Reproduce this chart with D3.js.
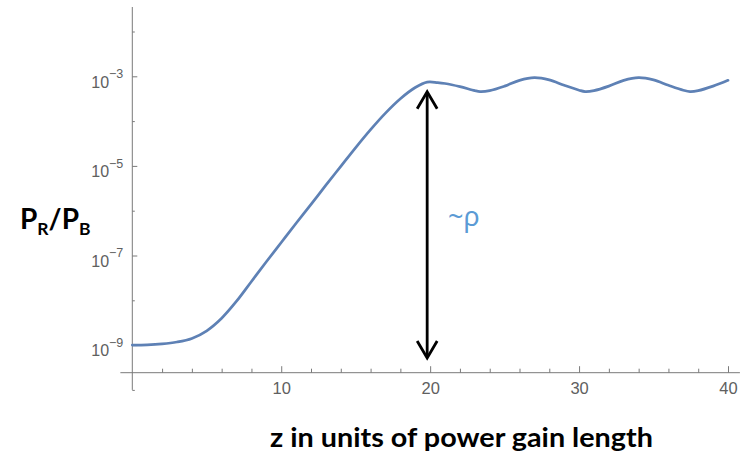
<!DOCTYPE html>
<html>
<head>
<meta charset="utf-8">
<script src="https://cdn.jsdelivr.net/npm/d3@7"></script>
<style>
  html, body { margin: 0; padding: 0; background: #fff; }
  svg { display: block; }
</style>
</head>
<body>
<svg id="chart" width="749" height="454"></svg>
<script>
// Position along the undulator, in units of the power gain length
const zValues = [0, 1, 2, 3, 4, 5, 6, 7, 8, 9, 10, 11, 12, 13, 14, 15, 16, 17, 18, 19,
  19.8, 20.5, 21, 22, 23, 23.35, 24, 25, 26, 27, 28, 29, 30, 30.4, 31, 32, 33, 34, 35,
  36, 37, 37.45, 38, 39, 40];

// Radiated power over beam power, P_R / P_B
const powerRatio = [1.00e-9, 1.01e-9, 1.06e-9, 1.17e-9, 1.41e-9, 2.09e-9, 3.98e-9, 9.55e-9,
  2.63e-8, 7.24e-8, 1.95e-7, 5.25e-7, 1.38e-6, 3.72e-6, 9.77e-6, 2.57e-5, 6.46e-5,
  1.51e-4, 3.16e-4, 5.62e-4,
  7.41e-4, 7.24e-4, 6.92e-4, 5.89e-4, 4.79e-4, 4.57e-4, 4.79e-4, 6.03e-4, 8.13e-4, 9.33e-4,
  8.32e-4, 6.31e-4, 4.90e-4, 4.57e-4, 4.79e-4, 6.03e-4, 8.13e-4, 9.33e-4, 8.32e-4,
  6.31e-4, 4.90e-4, 4.57e-4, 4.79e-4, 6.03e-4, 8.13e-4];

// Axis ticks
const xMajorTicks = [10, 20, 30, 40];
const xMinorTicks = [2, 4, 6, 8, 12, 14, 16, 18, 22, 24, 26, 28, 32, 34, 36, 38];
const yMajorExponents = [-3, -5, -7, -9];
const yMinorExponents = [-2, -4, -6, -8, -10];

// Saturation arrow: position and the two ends it spans
const arrowZ = 19.8;
const arrowSpan = [4.53e-4, 5.15e-10];
const arrowLabel = "~ρ";

const svg = d3.select("#chart");

const x = d3.scaleLinear().domain([0, 40]).range([132.3, 728]);
const y = d3.scaleLog().domain([1e-10, Math.pow(10, -1.453)]).range([389.9, 7]);
const xAxisLevel = Math.pow(10, -9.616);
const xExtent = [-0.8, 40.8];

const axisColor = "#7a7a7a";
const labelColor = "#606060";
const lineColor = "#5e81b5";

// ---- x axis ----
const xAxisY = y(xAxisLevel);
const gx = svg.append("g").attr("transform", `translate(0,${xAxisY})`);
gx.append("line")
  .attr("x1", x(xExtent[0])).attr("x2", x(xExtent[1]))
  .attr("stroke", axisColor).attr("stroke-width", 1);

const xMajor = d3.axisBottom(x).tickValues(xMajorTicks)
  .tickSizeInner(-6.5).tickSizeOuter(0).tickPadding(10)
  .tickFormat(d3.format("d"));
gx.append("g").call(xMajor).call(g => {
  g.select(".domain").remove();
  g.selectAll("line").attr("stroke", axisColor);
  g.selectAll("text").attr("fill", labelColor)
    .attr("font-family", "'Liberation Sans', Arial, sans-serif")
    .attr("font-size", 16.5);
});
const xMinor = d3.axisBottom(x).tickValues(xMinorTicks)
  .tickSizeInner(-4).tickSizeOuter(0).tickFormat("");
gx.append("g").call(xMinor).call(g => {
  g.select(".domain").remove();
  g.selectAll("line").attr("stroke", axisColor);
});

// ---- y axis ----
const yAxisX = x(0);
const gy = svg.append("g").attr("transform", `translate(${yAxisX},0)`);
gy.append("line")
  .attr("y1", y.range()[0]).attr("y2", y.range()[1])
  .attr("stroke", axisColor).attr("stroke-width", 1);

const yMajor = d3.axisLeft(y).tickValues(yMajorExponents.map(e => Math.pow(10, e)))
  .tickSizeInner(-5).tickSizeOuter(0).tickPadding(9).tickFormat("");
gy.append("g").call(yMajor).call(g => {
  g.select(".domain").remove();
  g.selectAll("line").attr("stroke", axisColor);
  g.selectAll("text").each(function (d, i) {
    const t = d3.select(this)
      .attr("fill", labelColor)
      .attr("font-family", "'Liberation Sans', Arial, sans-serif")
      .attr("font-size", 16)
      .attr("dy", "0.68em");
    t.append("tspan").text("10");
    t.append("tspan").attr("font-size", 12.5).attr("dy", -9.5)
      .text("\u2212" + Math.abs(yMajorExponents[i]));
  });
});
const yMinor = d3.axisLeft(y).tickValues(yMinorExponents.map(e => Math.pow(10, e)))
  .tickSizeInner(-2.5).tickSizeOuter(0).tickFormat("");
gy.append("g").call(yMinor).call(g => {
  g.select(".domain").remove();
  g.selectAll("line").attr("stroke", axisColor);
});

// ---- curve ----
const data = zValues.map((z, i) => ({ z, p: powerRatio[i] }));
const line = d3.line().x(d => x(d.z)).y(d => y(d.p)).curve(d3.curveCatmullRom.alpha(0.5));
svg.append("path").datum(data)
  .attr("d", line)
  .attr("fill", "none")
  .attr("stroke", lineColor)
  .attr("stroke-width", 2.7)
  .attr("stroke-linejoin", "round")
  .attr("stroke-linecap", "round");

// ---- double-headed arrow ----
const ax = x(arrowZ);
const aTop = y(arrowSpan[0]);
const aBot = y(arrowSpan[1]);
const headW = 10, headH = 17;
const arrow = svg.append("g")
  .attr("fill", "none").attr("stroke", "#000").attr("stroke-width", 2.8);
arrow.append("line").attr("x1", ax).attr("x2", ax).attr("y1", aTop + 1).attr("y2", aBot - 1);
arrow.append("path")
  .attr("d", `M${ax - headW},${aTop + headH}L${ax},${aTop}L${ax + headW},${aTop + headH}`);
arrow.append("path")
  .attr("d", `M${ax - headW},${aBot - headH}L${ax},${aBot}L${ax + headW},${aBot - headH}`);

svg.append("text")
  .attr("x", 448).attr("y", 226)
  .attr("fill", "#5b9bd5")
  .attr("font-family", "'Noto Sans', 'Open Sans', sans-serif")
  .attr("font-size", 27)
  .text(arrowLabel);

// ---- axis titles ----
const yTitle = svg.append("text")
  .attr("x", 20).attr("y", 229)
  .attr("fill", "#000")
  .attr("font-family", "Lato, 'Open Sans', sans-serif")
  .attr("font-weight", 700)
  .attr("font-size", 28);
yTitle.append("tspan").text("P");
yTitle.append("tspan").attr("font-size", 17.5).attr("dy", 6).text("R");
yTitle.append("tspan").attr("dy", -6).text("/P");
yTitle.append("tspan").attr("font-size", 17.5).attr("dy", 6).text("B");

svg.append("text")
  .attr("x", 270).attr("y", 447)
  .attr("fill", "#000")
  .attr("font-family", "Lato, 'Open Sans', sans-serif")
  .attr("font-weight", 700)
  .attr("font-size", 27)
  .attr("textLength", 383)
  .attr("lengthAdjust", "spacingAndGlyphs")
  .text("z in units of power gain length");
</script>
</body>
</html>
